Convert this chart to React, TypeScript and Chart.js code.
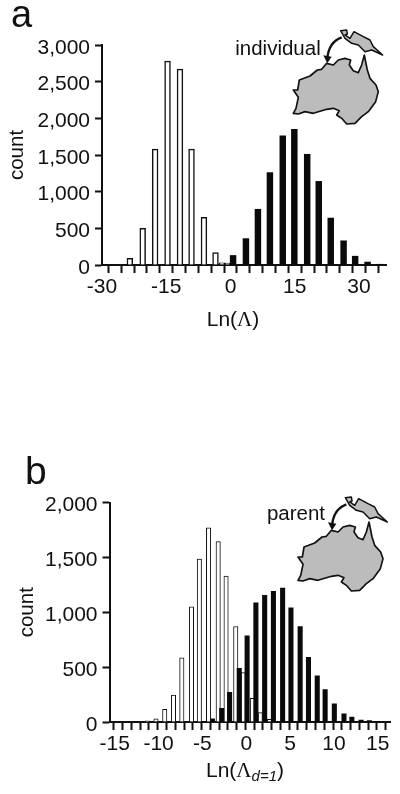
import React, { useEffect, useRef } from "react";
import { Chart, registerables } from "chart.js";

Chart.register(...registerables);

const FONT = '"Liberation Sans", Arial, sans-serif';

// Panel a
const aOpenBins = [-23.5, -20.5, -17.6, -14.7, -11.8, -9.1, -6.2, -3.5, -2.0, -0.7];
const aOpenCounts = [90, 500, 1580, 2780, 2670, 1580, 650, 170, 30, 25];
const aFilledBins = [0.6, 3.6, 6.4, 9.2, 12.2, 14.9, 17.9, 20.6, 23.4, 26.4, 29.1, 32, 34.8];
const aFilledCounts = [130, 360, 760, 1260, 1760, 1850, 1510, 1140, 640, 330, 120, 40, 10];

// Panel b
const bOpenBins = [-11.7, -10.7, -9.7, -8.7, -7.75, -6.65, -5.75, -4.7, -3.6, -2.7, -1.6, -0.75, 0.3, 1.2, 2.25];
const bOpenCounts = [10, 30, 115, 245, 585, 1050, 1485, 1770, 1645, 1330, 870, 450, 215, 85, 25];
const bFilledBins = [-4.25, -3.2, -2.3, -1.2, -0.3, 0.7, 1.7, 2.7, 3.75, 4.7, 5.75, 6.7, 7.7, 8.6, 9.65, 10.75, 11.65, 12.7, 13.65, 14.7];
const bFilledCounts = [30, 125, 270, 490, 785, 1085, 1155, 1190, 1220, 1040, 870, 590, 420, 295, 165, 75, 45, 18, 12, 6];

const australia =
  "M190,310 L198,295 L205,262 L190,240 L203,240 L208,210 L240,198 L262,180 L275,178 L290,160 L310,165 L325,150 L345,145 L362,150 L358,165 L370,182 L385,188 L395,165 L403,135 L412,180 L420,205 L438,225 L445,245 L437,275 L415,305 L395,320 L375,340 L350,342 L335,325 L320,315 L328,302 L310,295 L290,298 L250,310 L225,305 L205,312 Z";
const newGuinea =
  "M332,62 L350,60 L352,72 L345,75 L360,85 L372,65 L400,80 L420,90 L430,110 L458,135 L425,120 L405,125 L385,105 L365,100 L345,85 Z";

type Run = { text: string; font: string; dy?: number };

const richTitle = {
  id: "richTitle",
  afterDraw(chart: any) {
    const o = chart.options.plugins.richTitle;
    if (!o || !o.runs) return;
    const ctx = chart.ctx;
    ctx.save();
    ctx.fillStyle = "#111";
    ctx.textBaseline = "alphabetic";
    ctx.textAlign = "left";
    let w = 0;
    for (const r of o.runs as Run[]) {
      ctx.font = r.font;
      w += ctx.measureText(r.text).width;
    }
    let x = o.cx - w / 2;
    for (const r of o.runs as Run[]) {
      ctx.font = r.font;
      ctx.fillText(r.text, x, o.baseline + (r.dy || 0));
      x += ctx.measureText(r.text).width;
    }
    ctx.restore();
  },
};

type PanelCfg = {
  openBins: number[];
  openCounts: number[];
  filledBins: number[];
  filledCounts: number[];
  xMin: number;
  xMax: number;
  xStep: number;
  labelEvery: number;
  xLabelOffset: number;
  yMax: number;
  yStep: number;
  barW: number;
  openBorder: number;
  left: number;
  right: number;
  top: number;
  bottom: number;
  titleRuns: Run[];
  titleCx: number;
  titleBaseline: number;
  countPad: number;
};

const H = 397;

function Panel({ cfg, top }: { cfg: PanelCfg; top: number }) {
  const ref = useRef<HTMLCanvasElement | null>(null);
  useEffect(() => {
    const toPts = (xs: number[], ys: number[]) => xs.map((x, i) => ({ x, y: ys[i] }));
    const chart = new Chart(ref.current as HTMLCanvasElement, {
      type: "bar",
      plugins: [richTitle],
      data: {
        datasets: [
          {
            label: "open",
            data: toPts(cfg.openBins, cfg.openCounts),
            backgroundColor: "#ffffff",
            borderColor: "#111111",
            borderWidth: cfg.openBorder,
            borderSkipped: "bottom",
            barThickness: cfg.barW,
            grouped: false,
            order: 2,
          },
          {
            label: "filled",
            data: toPts(cfg.filledBins, cfg.filledCounts),
            backgroundColor: "#0a0a0a",
            borderWidth: 0,
            barThickness: cfg.barW,
            grouped: false,
            order: 1,
          },
        ],
      } as any,
      options: {
        animation: false,
        responsive: false,
        layout: {
          padding: { left: 0, top: cfg.top, right: 400 - cfg.right, bottom: H - cfg.bottom - 60 },
        },
        plugins: {
          legend: { display: false },
          tooltip: { enabled: false },
          richTitle: { runs: cfg.titleRuns, cx: cfg.titleCx, baseline: cfg.titleBaseline },
        } as any,
        scales: {
          x: {
            type: "linear",
            min: cfg.xMin,
            max: cfg.xMax,
            offset: false,
            afterFit: (s: any) => {
              s.height = 60;
            },
            border: { display: true, color: "#111", width: 2 },
            grid: { drawOnChartArea: false, drawTicks: true, tickLength: 8, tickWidth: 2, tickColor: "#111" },
            ticks: {
              stepSize: cfg.xStep,
              includeBounds: false,
              autoSkip: false,
              maxRotation: 0,
              minRotation: 0,
              padding: 2,
              labelOffset: cfg.xLabelOffset,
              color: "#111",
              font: { family: FONT, size: 21 },
              callback: (v: any) => (Number(v) % cfg.labelEvery === 0 ? String(v) : ""),
            },
          },
          y: {
            type: "linear",
            min: 0,
            max: cfg.yMax,
            afterFit: (s: any) => {
              s.width = cfg.left;
            },
            border: { display: true, color: "#111", width: 2 },
            grid: { drawOnChartArea: false, drawTicks: true, tickLength: 7, tickWidth: 2, tickColor: "#111" },
            title: {
              display: true,
              text: "count",
              color: "#111",
              font: { family: FONT, size: 20.5 },
              padding: { top: cfg.countPad, bottom: 0 },
            },
            ticks: {
              stepSize: cfg.yStep,
              padding: 5,
              labelOffset: 3,
              color: "#111",
              font: { family: FONT, size: 21 },
            },
          },
        },
      } as any,
    });
    return () => chart.destroy();
  }, []);
  return (
    <canvas
      ref={ref}
      width={400}
      height={H}
      style={{ position: "absolute", left: 0, top, width: 400, height: H, display: "block" }}
    />
  );
}

const panelA: PanelCfg = {
  openBins: aOpenBins,
  openCounts: aOpenCounts,
  filledBins: aFilledBins,
  filledCounts: aFilledCounts,
  xMin: -30,
  xMax: 36.3,
  xStep: 3,
  labelEvery: 15,
  xLabelOffset: 0,
  yMax: 3000,
  yStep: 500,
  barW: 5.8,
  openBorder: 1.5,
  left: 102,
  right: 386,
  top: 45,
  bottom: 265,
  titleRuns: [
    { text: "Ln(", font: `21px ${FONT}` },
    { text: "Λ", font: '21px "Liberation Serif", serif' },
    { text: ")", font: `21px ${FONT}` },
  ],
  titleCx: 233,
  titleBaseline: 326,
  countPad: 5,
};

const panelB: PanelCfg = {
  openBins: bOpenBins,
  openCounts: bOpenCounts,
  filledBins: bFilledBins,
  filledCounts: bFilledCounts,
  xMin: -16,
  xMax: 16,
  xStep: 1,
  labelEvery: 5,
  xLabelOffset: -3.5,
  yMax: 2000,
  yStep: 500,
  barW: 4.4,
  openBorder: 1,
  left: 109.5,
  right: 390,
  top: 502.5 - H,
  bottom: 722 - H,
  titleRuns: [
    { text: "Ln(", font: `21px ${FONT}` },
    { text: "Λ", font: '21px "Liberation Serif", serif' },
    { text: "d=1", font: `italic 15px ${FONT}`, dy: 4 },
    { text: ")", font: `21px ${FONT}` },
  ],
  titleCx: 245,
  titleBaseline: 777 - H,
  countPad: 15,
};

function MapInset({ dx, dy }: { dx: number; dy: number }) {
  return (
    <g transform={`translate(${230 + dx},${10 + dy}) scale(0.3333)`}>
      <path d={australia} fill="#bcbcbc" stroke="#111" strokeWidth={5} strokeLinejoin="round" />
      <path d={newGuinea} fill="#bcbcbc" stroke="#111" strokeWidth={4.5} strokeLinejoin="round" />
      <path d="M335,82 Q296,96 292,146" fill="none" stroke="#111" strokeWidth={7} />
      <path d="M280,136 L305,140 L292,160 Z" fill="#111" />
    </g>
  );
}

export default function App() {
  return (
    <div style={{ position: "absolute", left: 0, top: 0, width: 400, height: 794, background: "#fff", overflow: "hidden" }}>
      <Panel cfg={panelA} top={0} />
      <Panel cfg={panelB} top={H} />
      <svg width={400} height={794} style={{ position: "absolute", left: 0, top: 0 }}>
        <MapInset dx={0} dy={0} />
        <MapInset dx={4.7} dy={467} />
        <g fontFamily={FONT} fill="#111">
          <text x={11} y={27} fontSize={38}>a</text>
          <text x={25} y={484} fontSize={39}>b</text>
          <text x={278} y={55} fontSize={20.5} textAnchor="middle">individual</text>
          <text x={296} y={520} fontSize={20.5} textAnchor="middle">parent</text>
        </g>
      </svg>
    </div>
  );
}
